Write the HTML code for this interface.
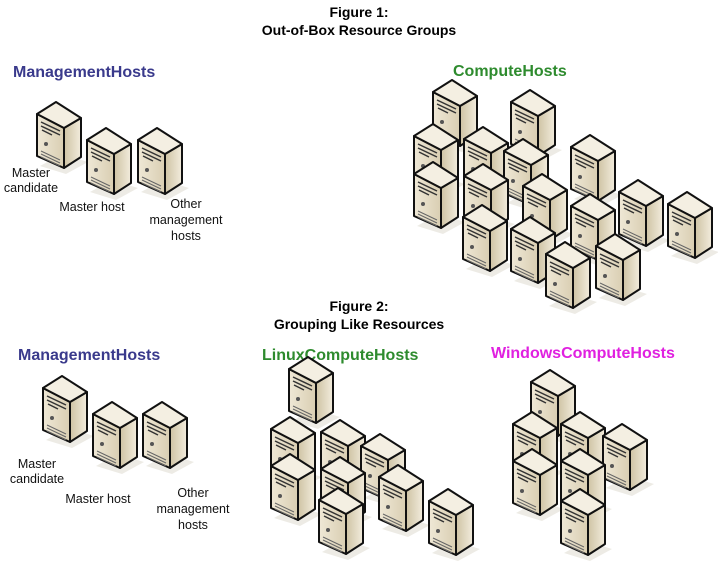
<!DOCTYPE html>
<html><head><style>
body{margin:0;background:#fff;width:718px;height:565px;overflow:hidden;font-family:"Liberation Sans",Arial,sans-serif}
</style></head><body>
<svg width="718" height="565" xmlns="http://www.w3.org/2000/svg">
<defs>
<linearGradient id="fg" x1="0" x2="1"><stop offset="0" stop-color="#efe8d6"/><stop offset="1" stop-color="#d9ceb2"/></linearGradient>
<linearGradient id="sg" x1="0" x2="1"><stop offset="0" stop-color="#cfc3a4"/><stop offset="1" stop-color="#f2ecdd"/></linearGradient>
<g id="s">
<polygon points="4,66 30,74 52,62 26,54" fill="#e6e2da" opacity="0.7"/>
<polygon points="1,14 28,28 28,68 1,56" fill="url(#fg)" stroke="#111" stroke-width="2" stroke-linejoin="round"/>
<polygon points="28,28 45,18 45,57 28,68" fill="url(#sg)" stroke="#111" stroke-width="2" stroke-linejoin="round"/>
<polygon points="1,14 20,2 45,18 28,28" fill="#f4efe2" stroke="#111" stroke-width="2" stroke-linejoin="round"/>
<path d="M5,22 L24,31 M5,26 L24,35 M6,30 L16,35" stroke="#333" stroke-width="1.5"/>
<circle cx="10" cy="44" r="2" fill="#555"/>
<path d="M5,51 L24,60 M5,54 L24,63 M5,57 L24,66" stroke="#666" stroke-width="1"/>
</g>
</defs>
<g font-weight="bold" font-size="14" text-anchor="middle" fill="#000">
<text x="359" y="17">Figure 1:</text><text x="359" y="35">Out-of-Box Resource Groups</text>
<text x="359" y="311">Figure 2:</text><text x="359" y="329">Grouping Like Resources</text>
</g>
<g font-weight="bold" font-size="16">
<text x="13" y="77" fill="#3a3a8c">ManagementHosts</text>
<text x="453" y="76" fill="#2e8b2e">ComputeHosts</text>
<text x="18" y="360" fill="#3a3a8c">ManagementHosts</text>
<text x="262" y="360" fill="#2e8b2e">LinuxComputeHosts</text>
<text x="491" y="358" fill="#e020e0">WindowsComputeHosts</text>
</g>
<use href="#s" x="36" y="100"/><use href="#s" x="86" y="126"/><use href="#s" x="137" y="126"/>
<use href="#s" x="432" y="78"/><use href="#s" x="510" y="88"/>
<use href="#s" x="413" y="122"/><use href="#s" x="463" y="125"/><use href="#s" x="570" y="133"/><use href="#s" x="503" y="137"/>
<use href="#s" x="413" y="160"/><use href="#s" x="463" y="162"/><use href="#s" x="522" y="172"/><use href="#s" x="618" y="178"/><use href="#s" x="667" y="190"/><use href="#s" x="570" y="192"/>
<use href="#s" x="462" y="203"/><use href="#s" x="510" y="215"/><use href="#s" x="595" y="232"/><use href="#s" x="545" y="240"/>
<use href="#s" x="42" y="374"/><use href="#s" x="92" y="400"/><use href="#s" x="142" y="400"/>
<use href="#s" x="288" y="355"/><use href="#s" x="270" y="415"/><use href="#s" x="320" y="418"/><use href="#s" x="360" y="432"/>
<use href="#s" x="270" y="452"/><use href="#s" x="320" y="455"/><use href="#s" x="378" y="463"/><use href="#s" x="318" y="486"/><use href="#s" x="428" y="487"/>
<use href="#s" x="530" y="368"/><use href="#s" x="512" y="410"/><use href="#s" x="560" y="410"/><use href="#s" x="602" y="422"/>
<use href="#s" x="512" y="447"/><use href="#s" x="560" y="447"/><use href="#s" x="560" y="487"/>
<g font-size="12.5" text-anchor="middle" fill="#111">
<text x="31" y="177">Master</text><text x="31" y="192">candidate</text>
<text x="92" y="211">Master host</text>
<text x="186" y="208">Other</text><text x="186" y="224">management</text><text x="186" y="240">hosts</text>
<text x="37" y="468">Master</text><text x="37" y="483">candidate</text>
<text x="98" y="503">Master host</text>
<text x="193" y="497">Other</text><text x="193" y="513">management</text><text x="193" y="529">hosts</text>
</g>
</svg>
</body></html>
